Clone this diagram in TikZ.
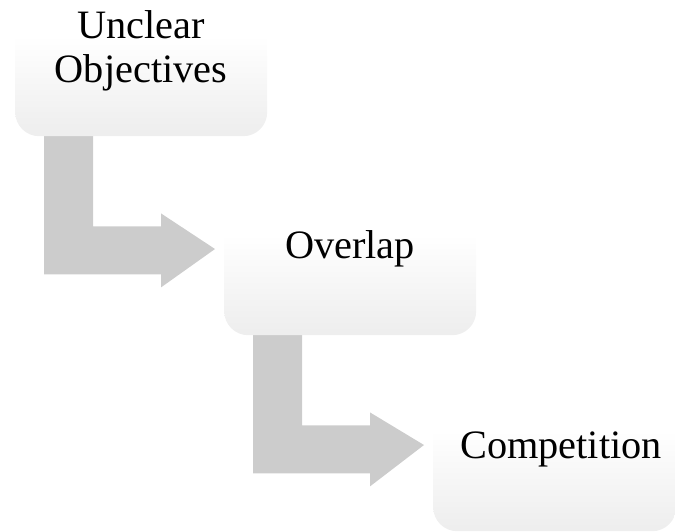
\documentclass[tikz,border=0pt]{standalone}
\usepackage{fontspec}
\setmainfont{Liberation Serif}
\usetikzlibrary{calc,backgrounds}

\definecolor{boxlow}{RGB}{227,227,227}
\definecolor{arrowfill}{RGB}{204,204,204}

% white at the top of each box, fading to light grey at the bottom
\pgfdeclareverticalshading{boxfade}{100bp}{%
  color(0bp)=(boxlow); color(30bp)=(boxlow!55!white);
  color(62bp)=(white); color(100bp)=(white)}

% bent block arrow from the bottom of one step box to the left of the next
\newcommand\stepconnector[2]{%
  \fill[arrowfill]
    ($(#1.south west)+(29,-20)$) -- ($(#1.south west)+(78,-20)$)
    -- ($(#1.south west)+(78,90)$) -- ($(#1.south west)+(146,90)$)
    -- ($(#1.south west)+(146,77)$) -- ($(#2.north west)+(-9,50)$)
    -- ($(#1.south west)+(146,151)$) -- ($(#1.south west)+(146,138)$)
    -- ($(#1.south west)+(29,138)$) -- cycle;}

\begin{document}
\begin{tikzpicture}[x=1pt,y=-1pt,
  stepbox/.style={draw=none, shading=boxfade, rounded corners=24pt,
    minimum width=252pt, minimum height=136pt, inner sep=0pt,
    anchor=north west},
  steptext/.style={font=\fontsize{40.3}{44}\selectfont, align=center,
    inner sep=0pt, anchor=base}]
\useasboundingbox (0,0) rectangle (675,531);

\node[stepbox] (b1) at (15,0) {};
\node[stepbox] (b2) at (224,199) {};
\node[stepbox, minimum width=243pt] (b3) at (433,395) {};

\begin{scope}[on background layer]
  \stepconnector{b1}{b2}
  \stepconnector{b2}{b3}
\end{scope}

% the base anchor sits on the last line of a wrapped text
\node[steptext] (t1) at ($(b1.north west)+(126,82)$) {Unclear\\Objectives};
\node[steptext] (t2) at ($(b2.north west)+(126,59)$) {Overlap};
\node[steptext] (t3) at ($(b3.north west)+(128,63)$) {Competition};
\end{tikzpicture}
\end{document}
